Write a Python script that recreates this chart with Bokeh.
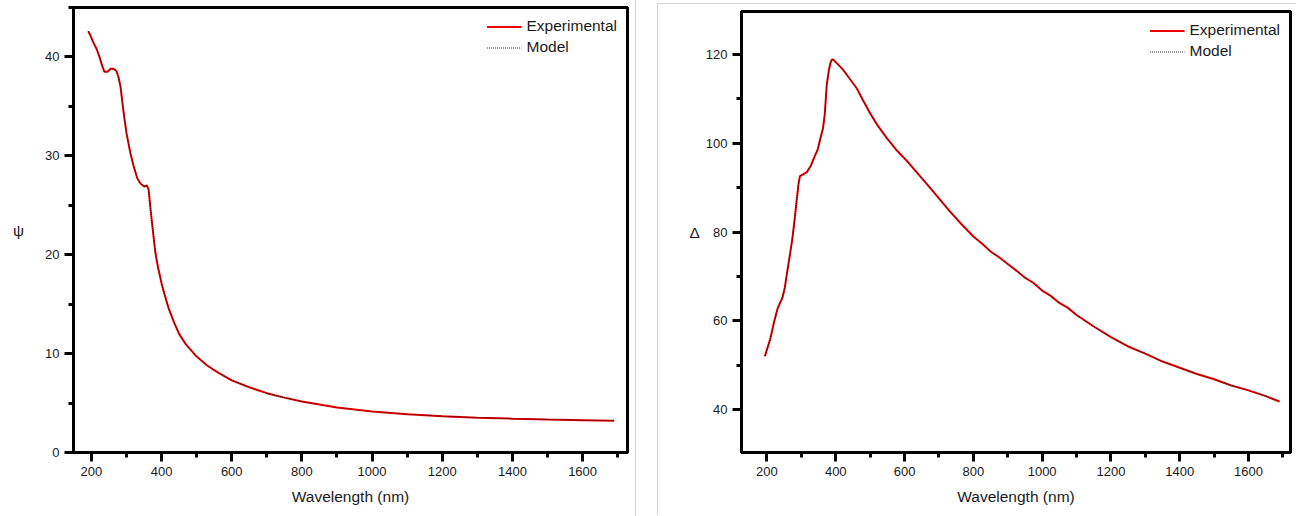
from bokeh.plotting import figure
from bokeh.models import SingleIntervalTicker, Legend, LegendItem, Range1d
from bokeh.layouts import row
from bokeh.embed import file_html
from bokeh.resources import INLINE

# ---- ellipsometric angle psi ----
wavelength_psi = [191, 197, 205, 215, 223, 230, 237, 246, 255, 263, 271, 277, 283, 291,
                  300, 311, 320, 331, 340, 350, 358, 363, 368, 375, 382, 390, 400, 410,
                  420, 435, 450, 470, 500, 530, 560, 600, 650, 700, 750, 800, 900, 1000,
                  1100, 1200, 1300, 1400, 1500, 1600, 1690]
psi_experimental = [42.6, 42.2, 41.5, 40.8, 40.0, 39.2, 38.5, 38.5, 38.8, 38.8, 38.6, 38.0,
                    37.0, 34.6, 32.3, 30.3, 29.0, 27.7, 27.2, 26.9, 27.0, 26.6, 24.8, 22.5,
                    20.3, 18.7, 17.1, 15.8, 14.6, 13.2, 12.0, 10.9, 9.7, 8.8, 8.1, 7.3, 6.6,
                    6.0, 5.55, 5.15, 4.55, 4.15, 3.88, 3.67, 3.52, 3.42, 3.33, 3.27, 3.22]
psi_model = list(psi_experimental)

# ---- ellipsometric angle delta ----
wavelength_delta = [194, 202, 210, 220, 230, 238, 245, 252, 258, 265, 273, 280, 287, 292,
                    296, 305, 316, 328, 339, 348, 355, 363, 368, 374, 380, 385, 389, 392,
                    400, 410, 421, 440, 461, 480, 499, 520, 549, 575, 607, 635, 665, 700,
                    731, 765, 800, 825, 850, 875, 900, 925, 950, 975, 1000, 1025, 1050,
                    1075, 1100, 1150, 1200, 1250, 1300, 1350, 1400, 1450, 1500, 1550,
                    1600, 1650, 1690]
delta_experimental = [52.0, 54.0, 56.0, 59.5, 62.5, 64.0, 65.2, 67.5, 70.6, 74.0, 78.0, 82.5,
                      87.6, 91.0, 92.6, 93.0, 93.5, 95.0, 97.1, 98.7, 101.0, 103.4, 106.5,
                      113.3, 116.5, 118.2, 118.9, 118.9, 118.3, 117.5, 116.6, 114.6, 112.4,
                      109.6, 106.9, 104.2, 101.1, 98.6, 96.0, 93.5, 90.8, 87.6, 84.7, 81.8,
                      79.0, 77.4, 75.6, 74.3, 72.8, 71.3, 69.7, 68.5, 66.8, 65.6, 64.0, 62.9,
                      61.3, 58.7, 56.3, 54.2, 52.6, 50.8, 49.4, 48.0, 46.8, 45.4, 44.3, 43.0,
                      41.8]
delta_model = list(delta_experimental)

x_label = "Wavelength (nm)"
series_labels = ["Experimental", "Model"]

FONT = "Liberation Sans"
TEXT = "#1a1a1a"


def style_axes(p, x_interval, y_interval, y_label, y_standoff):
    p.xaxis.ticker = SingleIntervalTicker(interval=x_interval, num_minor_ticks=2)
    p.yaxis.ticker = SingleIntervalTicker(interval=y_interval, num_minor_ticks=2)
    for ax in (p.xaxis[0], p.yaxis[0]):
        ax.axis_line_width = 3
        ax.axis_line_color = "black"
        ax.major_tick_line_width = 3
        ax.major_tick_line_color = "black"
        ax.minor_tick_line_width = 3
        ax.minor_tick_line_color = "black"
        ax.major_tick_in = 0
        ax.major_tick_out = 9
        ax.minor_tick_in = 0
        ax.minor_tick_out = 5
        ax.major_label_text_font = FONT
        ax.major_label_text_font_size = "13px"
        ax.major_label_text_color = TEXT
        ax.major_label_standoff = 5
        ax.axis_label_text_font = FONT
        ax.axis_label_text_font_size = "15.5px"
        ax.axis_label_text_font_style = "normal"
        ax.axis_label_text_color = TEXT
    p.xaxis.axis_label = x_label
    p.xaxis.axis_label_standoff = 9
    p.yaxis.axis_label = y_label
    p.yaxis.axis_label_orientation = "horizontal"
    p.yaxis.axis_label_standoff = y_standoff
    p.xgrid.visible = False
    p.ygrid.visible = False
    p.outline_line_color = "black"
    p.outline_line_width = 3
    p.outline_line_alpha = 1.0


def add_curves(p, x, y_exp, y_mod):
    r_exp = p.line(x, y_exp, line_color="#f00000", line_width=2)
    r_mod = p.line(x, y_mod, line_color="black", line_width=1, line_dash="1 1",
                   line_alpha=0.8)
    legend = Legend(
        items=[LegendItem(label=series_labels[0], renderers=[r_exp]),
               LegendItem(label=series_labels[1], renderers=[r_mod])],
        location="top_right",
        border_line_alpha=0,
        background_fill_alpha=0,
        label_text_font=FONT,
        label_text_font_size="15.5px",
        label_text_color=TEXT,
        glyph_width=35,
        glyph_height=17,
        label_height=17,
        label_standoff=5,
        spacing=3,
        padding=6,
        margin=4,
    )
    p.add_layout(legend)


# left panel: psi
p1 = figure(width=636, height=516, output_backend="svg", toolbar_location=None,
            x_range=Range1d(149, 1728), y_range=Range1d(0, 45),
            min_border_left=73, min_border_right=9, min_border_top=7,
            min_border_bottom=64, background_fill_color="white",
            border_fill_color="white")
style_axes(p1, 200, 10, "ψ", 18)
add_curves(p1, wavelength_psi, psi_experimental, psi_model)
p1.styles = {"border-right": "1px solid #d4d4d4"}

# right panel: delta
p2 = figure(width=639, height=512, output_backend="svg", toolbar_location=None,
            x_range=Range1d(126, 1722), y_range=Range1d(30.3, 129.7),
            min_border_left=83, min_border_right=7, min_border_top=6,
            min_border_bottom=64, background_fill_color="white",
            border_fill_color="white")
style_axes(p2, 200, 20, "Δ", 3)
add_curves(p2, wavelength_delta, delta_experimental, delta_model)
p2.styles = {"border-left": "1px solid #d4d4d4", "border-top": "1px solid #d4d4d4"}
p2.margin = (3, 0, 0, 21)

layout = row(p1, p2)
open("out.html", "w").write(file_html(layout, INLINE))
